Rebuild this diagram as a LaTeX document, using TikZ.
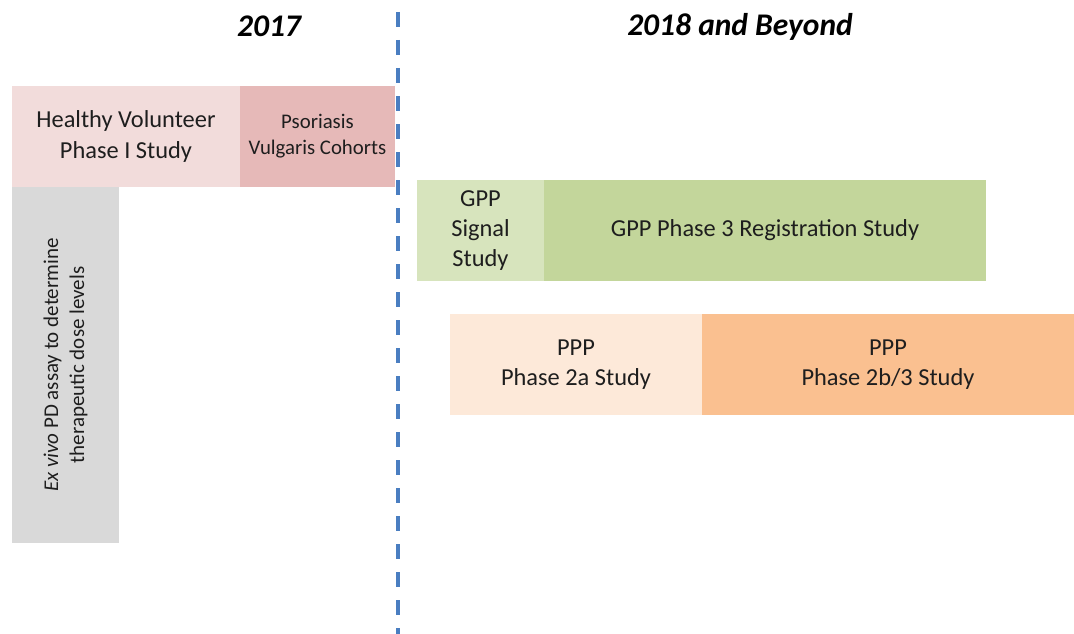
\documentclass[tikz,border=0pt]{standalone}
\usepackage{fontspec}
\setmainfont{Carlito}
\definecolor{hvpink}{RGB}{242,220,219}
\definecolor{pvpink}{RGB}{230,185,184}
\definecolor{exgray}{RGB}{217,217,217}
\definecolor{gpplight}{RGB}{215,228,189}
\definecolor{gppgreen}{RGB}{195,214,155}
\definecolor{ppplight}{RGB}{253,233,217}
\definecolor{ppporange}{RGB}{250,192,144}
\definecolor{divblue}{RGB}{74,126,193}
\definecolor{txt}{RGB}{30,30,30}
\begin{document}
\begin{tikzpicture}[x=1pt,y=-1pt,
  bar/.style={anchor=north west, inner sep=0pt, outer sep=0pt, draw=none, align=center, text=txt},
  bigtext/.style={font=\fontsize{24.4}{30}\selectfont},
  header/.style={font=\fontsize{31.5}{36}\selectfont\bfseries\itshape, text=black},
  divider/.style={draw=divblue, line width=3.5pt, dash pattern=on 15pt off 13pt}
]
\useasboundingbox (0,0) rectangle (1074,634);
% headers
\node[header] (h2017) at (269,26) {2017};
\node[header] (h2018) at (740,27) {2018 and Beyond};
% 2017 bars
\node[bar, fill=hvpink, minimum width=228pt, minimum height=101pt,
      font=\fontsize{24.4}{31}\selectfont] (hv) at (12,86) {Healthy Volunteer\\Phase I Study};
\node[bar, fill=pvpink, minimum width=155pt, minimum height=101pt,
      font=\fontsize{20.8}{26}\selectfont] (pv) at (240,86) {Psoriasis\\Vulgaris Cohorts};
\node[bar, fill=exgray, minimum width=107pt, minimum height=356pt] (ex) at (12,187) {};
\node[rotate=90, align=center, text=txt, font=\fontsize{21}{26}\selectfont]
      (extxt) at (ex.center) {\textit{Ex vivo} PD assay to determine\\therapeutic dose levels};
% 2018 bars
\node[bar, bigtext, fill=gpplight, minimum width=127pt, minimum height=101pt] (gs) at (417,180) {GPP\\Signal\\Study};
\node[bar, bigtext, fill=gppgreen, minimum width=442pt, minimum height=101pt] (g3) at (544,180) {GPP Phase 3 Registration Study};
\node[bar, bigtext, fill=ppplight, minimum width=252pt, minimum height=101pt] (p2a) at (450,314) {PPP\\Phase 2a Study};
\node[bar, bigtext, fill=ppporange, minimum width=372pt, minimum height=101pt] (p2b) at (702,314) {PPP\\Phase 2b/3 Study};
% divider
\coordinate (dtop) at (398,12);
\coordinate (dbot) at (398,634);
\draw[divider] (dtop) -- (dbot);
\end{tikzpicture}
\end{document}
